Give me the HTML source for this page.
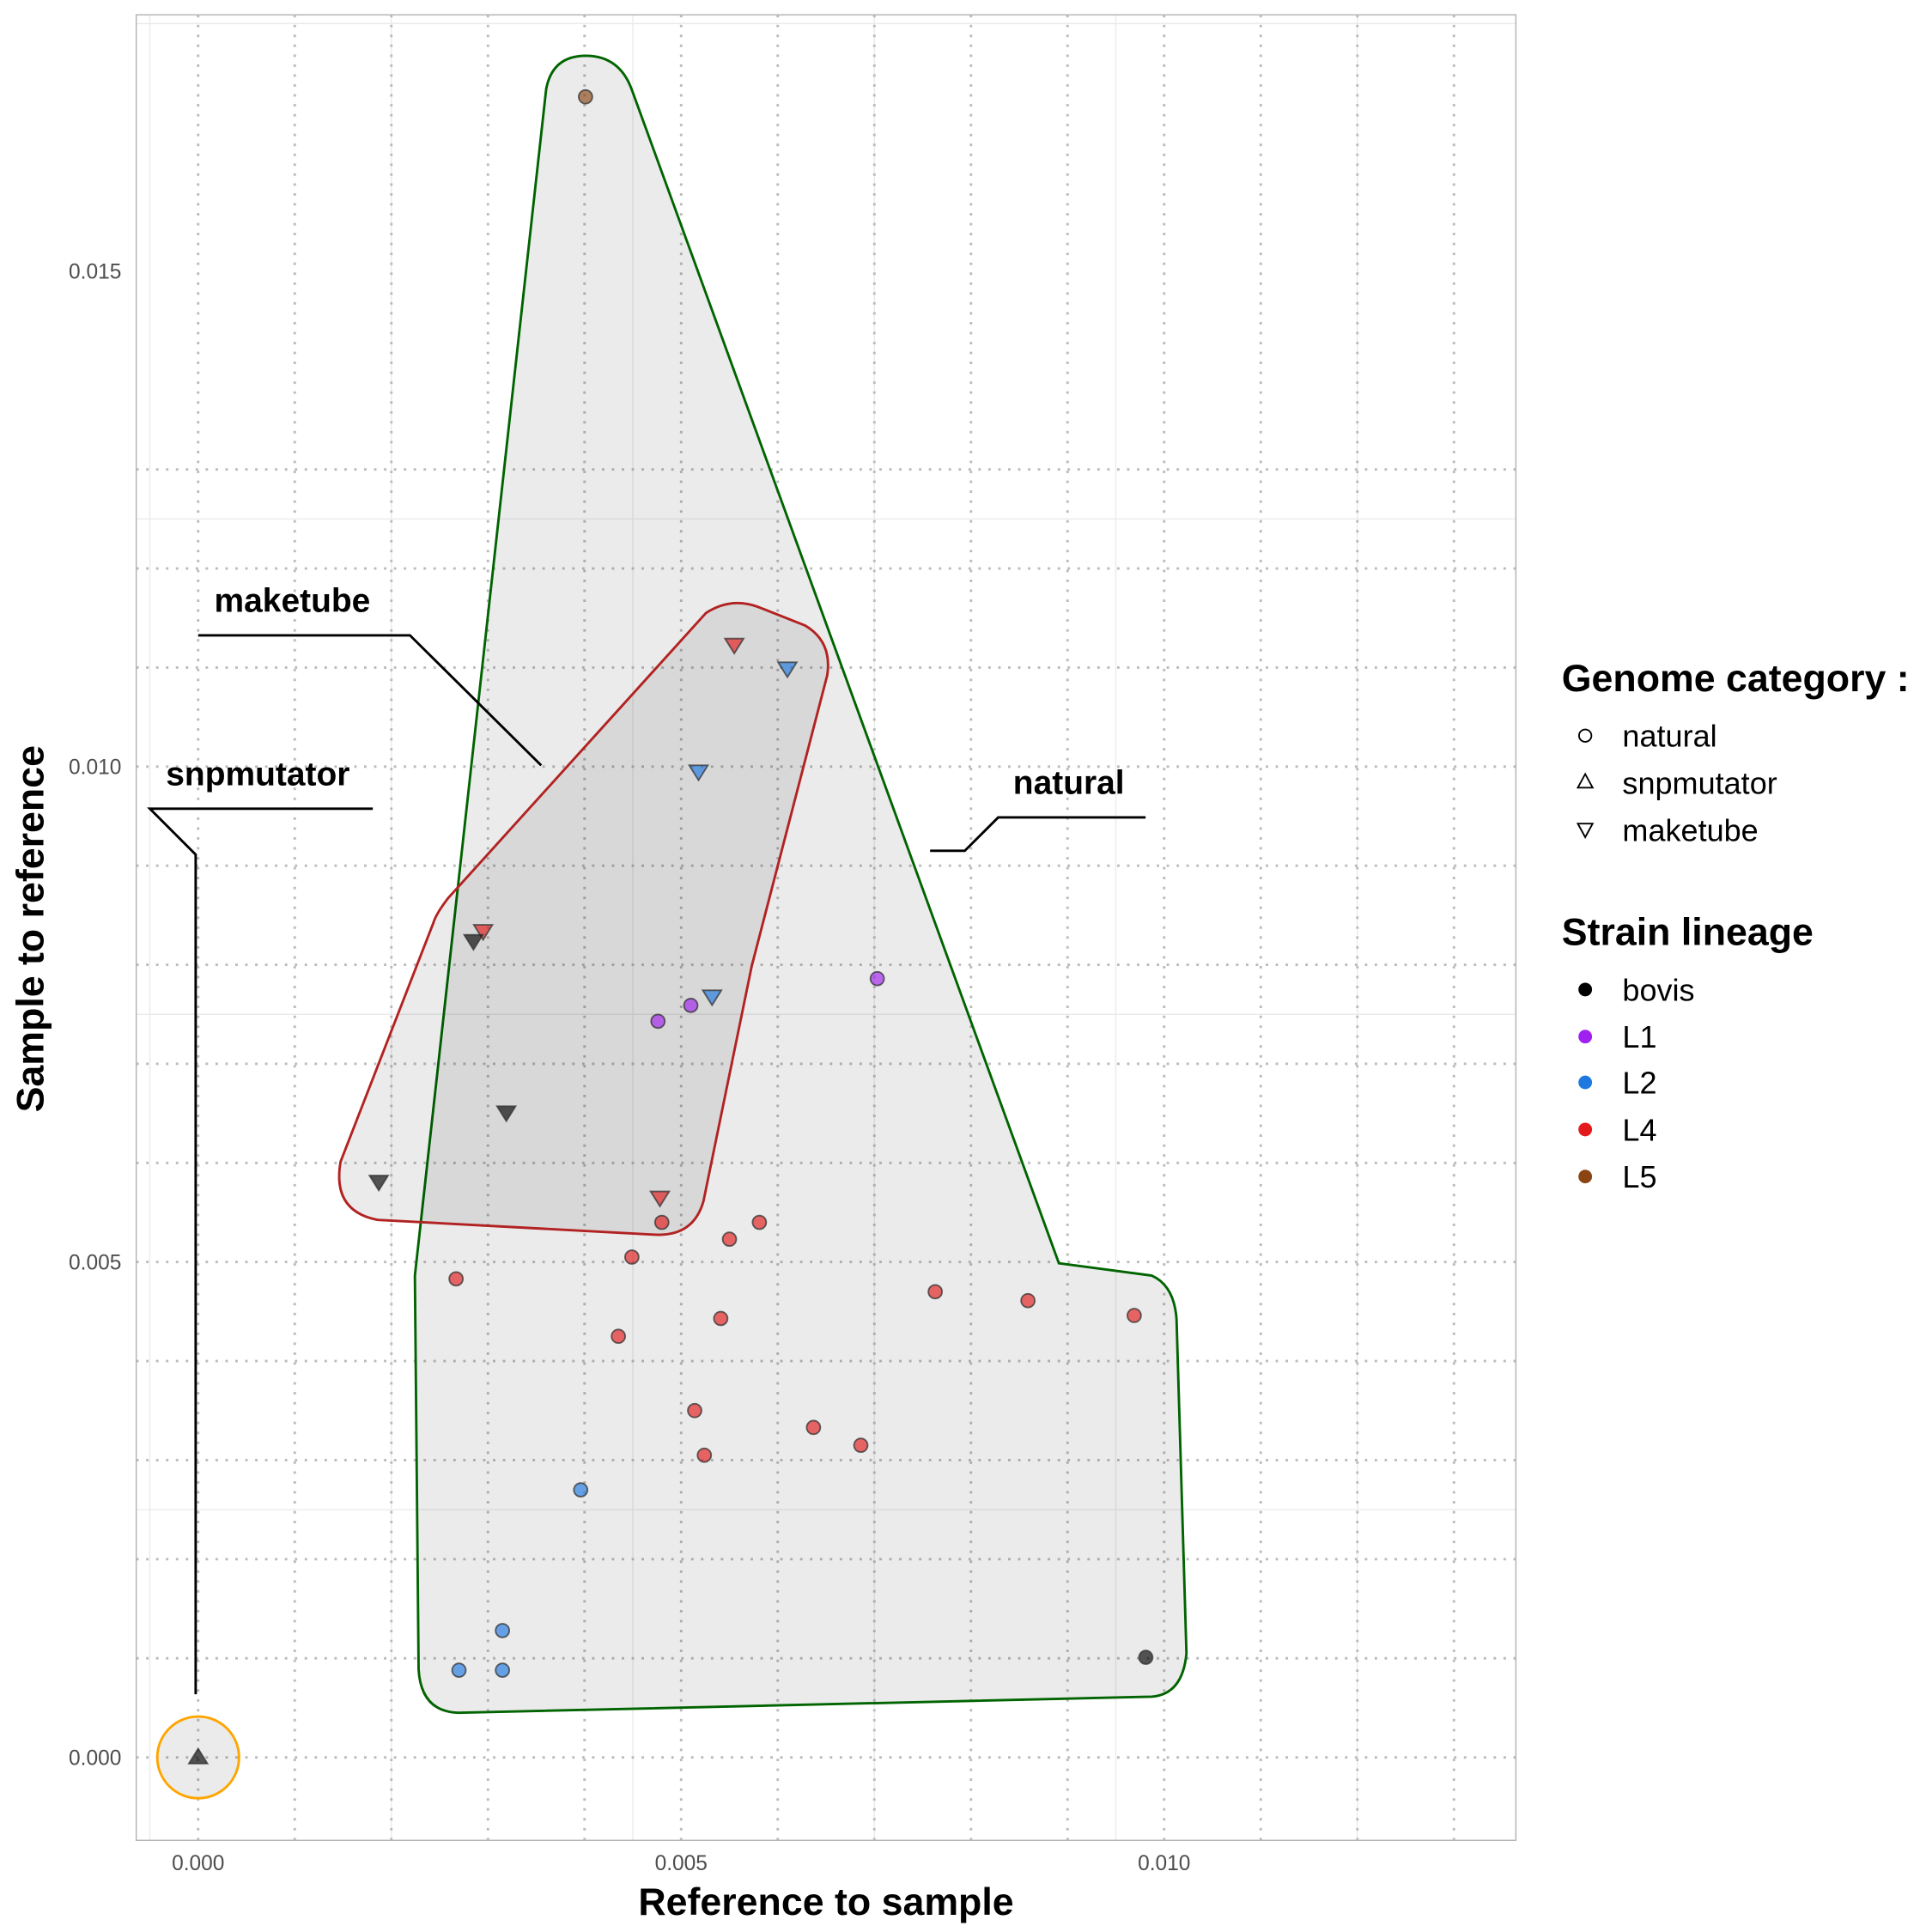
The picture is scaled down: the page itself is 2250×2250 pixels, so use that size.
<!DOCTYPE html>
<html><head><meta charset="utf-8"><style>
html,body{margin:0;padding:0;background:#fff}
svg{display:block}
text{font-family:"Liberation Sans",Arial,sans-serif}
</style></head><body>
<svg id="chart" width="2250" height="2250" viewBox="0 0 1560 1560" xmlns="http://www.w3.org/2000/svg">
<rect width="1560" height="1560" fill="#fff"/>
<g id="grid"></g>
<g id="hulls">
<path d="M441,72 Q446,45 473,45 Q500,45 510,72 L855,1020 L930,1030 Q948,1038 950,1065 L958,1335 Q955,1368 930,1370 L370,1383 Q340,1382 338,1348 L335,1030 Z" fill="rgba(0,0,0,0.078)" stroke="#006400" stroke-width="2"/>
<path d="M570,495 Q590,482 612,490 L650,505 Q672,518 668,545 L607,780 L568,970 Q560,998 530,997 L305,985 Q268,978 275,938 L350,745 Q352,738 362,725 Z" fill="rgba(0,0,0,0.078)" stroke="#b22222" stroke-width="2"/>
<circle cx="160" cy="1419" r="33" fill="rgba(0,0,0,0.078)" stroke="#ffa500" stroke-width="2"/>
</g>
<g id="anno" fill="none" stroke="#000" stroke-width="2">
<polyline points="160,513 331,513 437,618"/>
<polyline points="301,653 121,653 158,690 158,1368"/>
<polyline points="925,660 806,660 779,687 751,687"/>
</g>
<g font-weight="bold" font-size="27" fill="#000">
<text x="173" y="494">maketube</text>
<text x="134" y="634">snpmutator</text>
<text x="818" y="641">natural</text>
</g>
<g id="marks"></g>
<rect x="110" y="12" width="1114" height="1474" fill="none" stroke="#b3b3b3" stroke-width="1"/>
<g id="ticks" font-size="17" fill="#4d4d4d"></g>
<text x="667" y="1546" text-anchor="middle" font-size="31" font-weight="bold">Reference to sample</text>
<text transform="translate(35,750) rotate(-90)" text-anchor="middle" font-size="31" font-weight="bold">Sample to reference</text>
<g font-size="25" fill="#000">
<text x="1261" y="558" font-size="31" font-weight="bold">Genome category :</text>
<circle cx="1280" cy="594" r="5" fill="none" stroke="#000" stroke-width="1.3"/>
<text x="1310" y="603">natural</text>
<polygon points="1280,625 1286,636 1274,636" fill="none" stroke="#000" stroke-width="1.3"/>
<text x="1310" y="641">snpmutator</text>
<polygon points="1274,665 1286,665 1280,676" fill="none" stroke="#000" stroke-width="1.3"/>
<text x="1310" y="679">maketube</text>
<text x="1261" y="763" font-size="31" font-weight="bold">Strain lineage</text>
<circle cx="1280" cy="799" r="5.5" fill="#000"/>
<text x="1310" y="808">bovis</text>
<circle cx="1280" cy="837" r="5.5" fill="#a020f0"/>
<text x="1310" y="846">L1</text>
<circle cx="1280" cy="874" r="5.5" fill="#1e78e0"/>
<text x="1310" y="883">L2</text>
<circle cx="1280" cy="912" r="5.5" fill="#e31a1c"/>
<text x="1310" y="921">L4</text>
<circle cx="1280" cy="950" r="5.5" fill="#8b4513"/>
<text x="1310" y="959">L5</text>
</g>
</svg>
<script>
const xTicks=[0,0.005,0.010];
const xTickLabels=["0.000","0.005","0.010"];
const yTicks=[0,0.005,0.010,0.015];
const yTickLabels=["0.000","0.005","0.010","0.015"];
const pointX=[0.00401,0.00703,0.00476,0.0051,0.0048,0.00581,0.0055,0.00449,0.00267,0.00763,0.00859,0.00969,0.00541,0.00435,0.00514,0.00637,0.00686,0.00524,0.00396,0.00315,0.0027,0.00315,0.00981,0,0.00555,0.0061,0.00518,0.00295,0.00285,0.00532,0.00319,0.00187,0.00478];
const pointY=[0.01676,0.00786,0.00743,0.00759,0.0054,0.0054,0.00523,0.00505,0.00483,0.0047,0.00461,0.00446,0.00443,0.00425,0.0035,0.00333,0.00315,0.00305,0.0027,0.00128,0.00088,0.00088,0.00101,0,0.01123,0.01099,0.00995,0.00834,0.00824,0.00768,0.00651,0.00581,0.00565];
const pointLineage=["L5","L1","L1","L1","L4","L4","L4","L4","L4","L4","L4","L4","L4","L4","L4","L4","L4","L4","L2","L2","L2","L2","bovis","bovis","L4","L2","L2","L4","bovis","L2","bovis","bovis","L4"];
const pointCategory=["natural","natural","natural","natural","natural","natural","natural","natural","natural","natural","natural","natural","natural","natural","natural","natural","natural","natural","natural","natural","natural","natural","natural","snpmutator","maketube","maketube","maketube","maketube","maketube","maketube","maketube","maketube","maketube"];
const colors={bovis:"#000000",L1:"#a020f0",L2:"#1e78e0",L4:"#e31a1c",L5:"#8b4513"};
const xs=d=>160+d*78000;
const ys=d=>1419-d*80000;
const NS="http://www.w3.org/2000/svg";
const grid=document.getElementById('grid');
function ln(x1,y1,x2,y2,st,dash,w){const l=document.createElementNS(NS,'line');
l.setAttribute('x1',x1);l.setAttribute('y1',y1);l.setAttribute('x2',x2);l.setAttribute('y2',y2);
l.setAttribute('stroke',st);l.setAttribute('stroke-width',w||1);if(dash)l.setAttribute('stroke-dasharray',dash);


grid.appendChild(l);}
for(let v=-0.0005;v<=0.0135;v+=0.0025){ln(xs(v),12,xs(v),1486,'#ebebeb');}
for(let v=-0.0025;v<=0.0175;v+=0.005){ln(110,ys(v),1224,ys(v),'#ebebeb');}
for(let i=0;i<=13;i++){ln(xs(i*0.001),12,xs(i*0.001),1486,'#bbbbbb','2,6',2);}
for(let i=0;i<=13;i++){ln(110,ys(i*0.001),1224,ys(i*0.001),'#bbbbbb','2,6',2);}
const ticks=document.getElementById('ticks');
xTicks.forEach((v,i)=>{const t=document.createElementNS(NS,'text');t.setAttribute('x',xs(v));t.setAttribute('y',1510);t.setAttribute('text-anchor','middle');t.textContent=xTickLabels[i];


ticks.appendChild(t);});
yTicks.forEach((v,i)=>{const t=document.createElementNS(NS,'text');t.setAttribute('x',98);t.setAttribute('y',ys(v)+6);t.setAttribute('text-anchor','end');t.textContent=yTickLabels[i];


ticks.appendChild(t);});
const marks=document.getElementById('marks');
pointX.forEach((v,i)=>{const cx=xs(v),cy=ys(pointY[i]);const c=colors[pointLineage[i]];let el;
if(pointCategory[i]==='natural'){el=document.createElementNS(NS,'circle');el.setAttribute('cx',cx);el.setAttribute('cy',cy);el.setAttribute('r',5.5);}
else if(pointCategory[i]==='snpmutator'){el=document.createElementNS(NS,'polygon');el.setAttribute('points',`${cx},${cy-7} ${cx+7.5},${cy+5} ${cx-7.5},${cy+5}`);}
else{el=document.createElementNS(NS,'polygon');el.setAttribute('points',`${cx-7.5},${cy-5} ${cx+7.5},${cy-5} ${cx},${cy+7}`);}
el.setAttribute('fill',c);el.setAttribute('fill-opacity',0.65);el.setAttribute('stroke','#333');el.setAttribute('stroke-opacity',0.75);el.setAttribute('stroke-width',1.3);


marks.appendChild(el);});
</script>
</body></html>
